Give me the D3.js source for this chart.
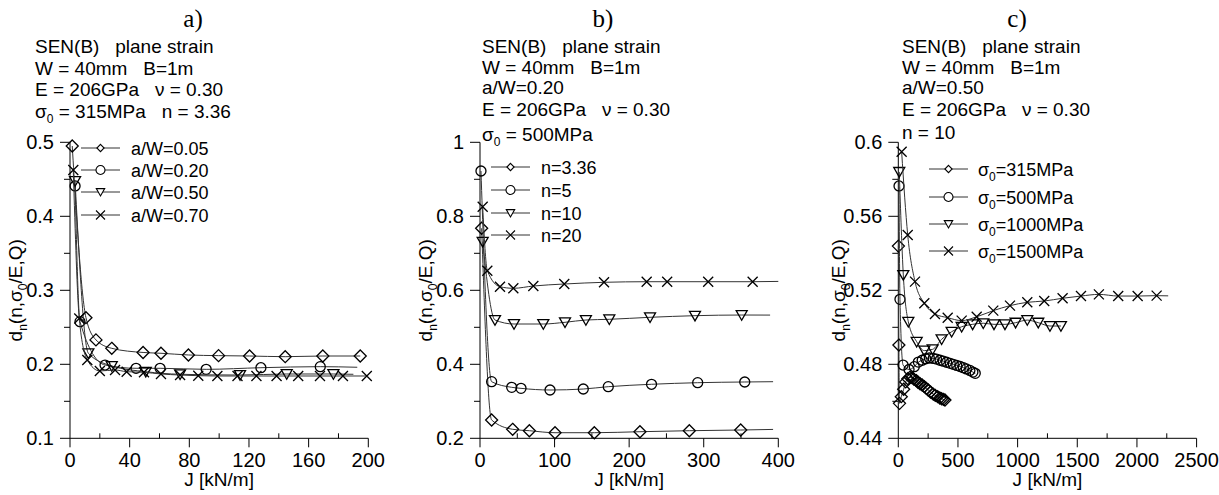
<!DOCTYPE html>
<html>
<head>
<meta charset="utf-8">
<script src="https://cdn.jsdelivr.net/npm/d3@7"></script>
<style>
  body { margin: 0; background: #fff; }
  text { font-family: "Liberation Sans", Arial, sans-serif; fill: #000; white-space: pre; }
  .serif { font-family: "Liberation Serif", "Times New Roman", serif; }
</style>
</head>
<body>
<div id="wrapper"></div>
<script>
// ---- data (J [kN/m], d_n) ----
// a) a/W series, sigma0 = 315MPa, n = 3.36
const aNames = ["a/W=0.05", "a/W=0.20", "a/W=0.50", "a/W=0.70"];
const aW005 = [[1.5,0.495],[10.7,0.263],[17.4,0.233],[28,0.2216],[49,0.216],[61,0.2149],[79.4,0.2126],[99.6,0.2117],[120.4,0.2112],[144.3,0.2103],[169.5,0.2112],[194.6,0.2112]];
const aW020 = [[3.4,0.441],[6.7,0.2576],[23.5,0.199],[44.3,0.1946],[60.4,0.1946],[91.3,0.1932],[128,0.1954],[167.8,0.1968]];
const aW050 = [[3.4,0.4477],[12.3,0.2149],[28,0.1977],[50.8,0.19],[73.8,0.1865],[114,0.1855],[145.3,0.1869],[176.6,0.1869]];
const aW070 = [[2.2,0.4626],[6.2,0.262],[11.6,0.2058],[20,0.191],[30.2,0.1923],[38,0.19],[49.6,0.1892],[61,0.1869],[73.8,0.1855],[86,0.1846],[98.8,0.1842],[112.3,0.1842],[125,0.1842],[138.5,0.1842],[153,0.1842],[167.6,0.1842],[183,0.1842],[199,0.1842]];
const aTails = [null, [192.6,0.196], [190,0.1865], null];

// b) n series, sigma0 = 500MPa, a/W = 0.20
const bNames = ["n=3.36", "n=5", "n=10", "n=20"];
const bN336 = [[2.2,0.7676],[15.6,0.2495],[43.8,0.2243],[66.2,0.2205],[100.6,0.2151],[153.3,0.2151],[214.5,0.2178],[280.7,0.2205],[349.6,0.2224]];
const bN5 = [[1.3,0.9224],[15.6,0.353],[42.5,0.3378],[55,0.335],[93.9,0.3305],[138.5,0.3332],[172,0.3395],[230,0.346],[291.9,0.3503],[355,0.3522]];
const bN10 = [[3.6,0.7314],[20.1,0.5197],[45.6,0.5089],[84.9,0.5089],[114,0.5135],[142,0.5197],[173.4,0.5216],[228,0.527],[288.3,0.5314],[350.9,0.5332]];
const bN20 = [[3.6,0.826],[9.8,0.653],[26.8,0.6097],[44.7,0.6054],[71.5,0.6116],[113,0.617],[166.3,0.6216],[223.5,0.6232],[251,0.6232],[306,0.6232],[365.6,0.6232]];
const bTails = [[393,0.224], [393,0.353], [389,0.533], [400,0.624]];

// c) sigma0 series, n = 10, a/W = 0.50
const cNames = ["σ_0=315MPa", "σ_0=500MPa", "σ_0=1000MPa", "σ_0=1500MPa"];
const cS315 = [[1,0.5439],[5,0.4904],[10,0.4589],[25,0.4625],[45,0.4665],[62,0.4705],[80,0.4722],[98,0.473],[115,0.4728],[130,0.472],[150,0.4712],[165,0.4703],[182,0.4695],[200,0.4688],[218,0.4679],[235,0.467],[251,0.4661],[270,0.465],[293,0.4639],[310,0.4632],[330,0.4625],[348,0.4618],[363,0.4614],[378,0.461],[391,0.4607]];
const cS500 = [[6,0.5764],[14,0.5151],[40,0.4796],[90,0.4772],[134,0.4787],[168,0.4812],[200,0.4822],[230,0.483],[260,0.4834],[293,0.4832],[320,0.4828],[350,0.4822],[377,0.4817],[405,0.4811],[435,0.4805],[461,0.48],[490,0.4794],[518,0.4788],[545,0.4782],[570,0.4775],[600,0.4767],[625,0.4758],[645,0.4751]];
const cS1000 = [[8,0.584],[42,0.5283],[84,0.503],[154,0.4922],[218,0.4874],[288,0.4881],[363,0.4935],[447,0.4976],[531,0.5003],[623,0.5016],[712,0.5022],[802,0.5016],[894,0.5016],[983,0.5025],[1081,0.5039],[1173,0.5025],[1271,0.5007],[1363,0.5007]];
const cS1500 = [[28,0.5949],[79,0.5499],[140,0.5247],[218,0.513],[307,0.5072],[414,0.5052],[531,0.5036],[657,0.5057],[796,0.509],[936,0.5117],[1081,0.5135],[1223,0.5142],[1377,0.5157],[1531,0.5169],[1681,0.5178],[1843,0.5169],[2006,0.5169],[2165,0.5171]];
const cTails = [null, null, null, [2262,0.517]];

const markers = ["diamond", "circle", "triangle", "cross"];

// header texts, "_x" = subscript x
const aHeader = ["SEN(B)   plane strain", "W = 40mm   B=1m", "E = 206GPa   ν = 0.30", "σ_0 = 315MPa   n = 3.36"];
const bHeader = ["SEN(B)   plane strain", "W = 40mm   B=1m", "a/W=0.20", "E = 206GPa   ν = 0.30", "σ_0 = 500MPa"];
const cHeader = ["SEN(B)   plane strain", "W = 40mm   B=1m", "a/W=0.50", "E = 206GPa   ν = 0.30", "n = 10"];

// 1. dimensions
const width = 1219, height = 495;
const plotW = 298.3, plotTop = 142.3, plotBottom = 438.3;

const panels = [
  { letter: "a)", letterX: 193, left: 70, xDomain: [0, 200], xStep: 40, xMinor: 20,
    yDomain: [0.1, 0.5], yStep: 0.1, yMinor: 0.05, names: aNames,
    series: [aW005, aW020, aW050, aW070], tails: aTails,
    header: aHeader, headerX: 35, headerY: [53, 74.5, 96, 117.5],
    legend: { x0: 81, x1: 120, xt: 131, ys: [148, 170, 192, 215] }, ylabelX: 22 },
  { letter: "b)", letterX: 603, left: 480, xDomain: [0, 400], xStep: 100, xMinor: 50,
    yDomain: [0.2, 1], yStep: 0.2, yMinor: 0.1, names: bNames,
    series: [bN336, bN5, bN10, bN20], tails: bTails,
    header: bHeader, headerX: 482, headerY: [53, 73.5, 94, 115.5, 141],
    legend: { x0: 491, x1: 530, xt: 541, ys: [167, 190, 213, 235] }, ylabelX: 432 },
  { letter: "c)", letterX: 1017, left: 898.3, xDomain: [0, 2500], xStep: 500, xMinor: 250,
    yDomain: [0.44, 0.6], yStep: 0.04, yMinor: 0.02, names: cNames,
    series: [cS315, cS500, cS1000, cS1500], tails: cTails,
    header: cHeader, headerX: 902, headerY: [53, 73.5, 94, 115.5, 139],
    legend: { x0: 929, x1: 968, xt: 978, ys: [169, 197, 224, 251] }, ylabelX: 845 },
];

// 2. canvas
const svg = d3.select("#wrapper").append("svg")
  .attr("width", width).attr("height", height);

const fmt = (v) => String(+v.toFixed(4));
const steps = (lo, hi, st) => d3.range(0, Math.round((hi - lo) / st) + 1).map((i) => +(lo + i * st).toFixed(6));

// text with "_x" subscripts
function addRich(textSel, str, subSize) {
  const parts = str.split(/_(.)/);
  let shift = 0;
  parts.forEach((p, i) => {
    if (p === "") return;
    const sub = i % 2 === 1;
    const dy = (sub ? 5 : 0) - shift;
    const ts = textSel.append("tspan").text(p);
    if (dy) ts.attr("dy", dy);
    if (sub) ts.style("font-size", subSize + "px");
    shift = sub ? 5 : 0;
  });
}

function markerPath(type, s) {
  if (type === "diamond") return `M0,${-s}L${s},0L0,${s}L${-s},0Z`;
  if (type === "triangle") return `M${-s},${-s * 0.8}L${s},${-s * 0.8}L0,${s * 0.95}Z`;
  if (type === "cross") return `M${-s},${-s}L${s},${s}M${-s},${s}L${s},${-s}`;
  return d3.arc()({ innerRadius: 0, outerRadius: s, startAngle: 0, endAngle: Math.PI * 2 });
}
const plotSize = { diamond: 6, circle: 5, triangle: 5.5, cross: 5 };
const legSize = { diamond: 3.6, circle: 4.5, triangle: 4.2, cross: 4.5 };

panels.forEach((p) => {
  const g = svg.append("g");

  // scales
  const x = d3.scaleLinear().domain(p.xDomain).range([p.left, p.left + plotW]);
  const y = d3.scaleLinear().domain(p.yDomain).range([plotBottom, plotTop]);

  // panel letter and header
  g.append("text").attr("class", "serif").attr("x", p.letterX).attr("y", 27)
    .attr("text-anchor", "middle").style("font-size", "25px").text(p.letter);
  p.header.forEach((line, i) => {
    const t = g.append("text").attr("x", p.headerX).attr("y", p.headerY[i]).style("font-size", "19px");
    addRich(t, line, 12);
  });

  // axes
  const xMaj = steps(p.xDomain[0], p.xDomain[1], p.xStep);
  const xMin = steps(p.xDomain[0], p.xDomain[1], p.xMinor).filter((v) => !xMaj.includes(v));
  const yMaj = steps(p.yDomain[0], p.yDomain[1], p.yStep);
  const yMin = steps(p.yDomain[0], p.yDomain[1], p.yMinor).filter((v) => !yMaj.some((m) => Math.abs(m - v) < 1e-9));

  const axes = g.append("g").attr("stroke", "#000").attr("stroke-width", 1);
  axes.append("line").attr("x1", x(p.xDomain[0])).attr("x2", x(p.xDomain[1]))
    .attr("y1", plotBottom).attr("y2", plotBottom);
  axes.append("line").attr("x1", p.left).attr("x2", p.left)
    .attr("y1", plotBottom).attr("y2", plotTop);
  xMaj.forEach((v) => axes.append("line").attr("x1", x(v)).attr("x2", x(v)).attr("y1", plotBottom).attr("y2", plotBottom + 9));
  xMin.forEach((v) => axes.append("line").attr("x1", x(v)).attr("x2", x(v)).attr("y1", plotBottom).attr("y2", plotBottom - 5));
  yMaj.forEach((v) => axes.append("line").attr("x1", p.left - 10).attr("x2", p.left).attr("y1", y(v)).attr("y2", y(v)));
  yMin.forEach((v) => axes.append("line").attr("x1", p.left - 6).attr("x2", p.left).attr("y1", y(v)).attr("y2", y(v)));

  xMaj.forEach((v) => g.append("text").attr("x", x(v)).attr("y", 467)
    .attr("text-anchor", "middle").style("font-size", "20px").text(fmt(v)));
  yMaj.forEach((v) => g.append("text").attr("x", p.left - 16).attr("y", y(v))
    .attr("text-anchor", "end").attr("dominant-baseline", "central").style("font-size", "20px").text(fmt(v)));

  g.append("text").attr("x", p.left + plotW / 2).attr("y", 486)
    .attr("text-anchor", "middle").style("font-size", "19px").text("J [kN/m]");
  const yl = g.append("text").attr("transform", `translate(${p.ylabelX},${(plotTop + plotBottom) / 2}) rotate(-90)`)
    .attr("text-anchor", "middle").style("font-size", "19px");
  addRich(yl, "d_n(n,σ_0/E,Q)", 12);

  // series
  const line = d3.line().x((d) => x(d[0])).y((d) => y(d[1])).curve(d3.curveMonotoneX);
  p.series.forEach((s, i) => {
    const pts = p.tails[i] ? s.concat([p.tails[i]]) : s;
    g.append("path").attr("d", line(pts)).attr("fill", "none")
      .attr("stroke", "#333").attr("stroke-width", 1);
    g.append("g").selectAll("path").data(s).join("path")
      .attr("transform", (d) => `translate(${x(d[0])},${y(d[1])})`)
      .attr("d", markerPath(markers[i], plotSize[markers[i]]))
      .attr("fill", "none").attr("stroke", "#000").attr("stroke-width", 1.3);
  });

  // legend
  p.names.forEach((name, i) => {
    const ly = p.legend.ys[i];
    g.append("line").attr("x1", p.legend.x0).attr("x2", p.legend.x1).attr("y1", ly).attr("y2", ly)
      .attr("stroke", "#333").attr("stroke-width", 1);
    g.append("path").attr("transform", `translate(${(p.legend.x0 + p.legend.x1) / 2},${ly})`)
      .attr("d", markerPath(markers[i], legSize[markers[i]]))
      .attr("fill", "#fff").attr("stroke", "#000").attr("stroke-width", 1.1);
    const t = g.append("text").attr("x", p.legend.xt).attr("y", ly + 6.5).style("font-size", "18px");
    addRich(t, name, 12);
  });
});
</script>
</body>
</html>
